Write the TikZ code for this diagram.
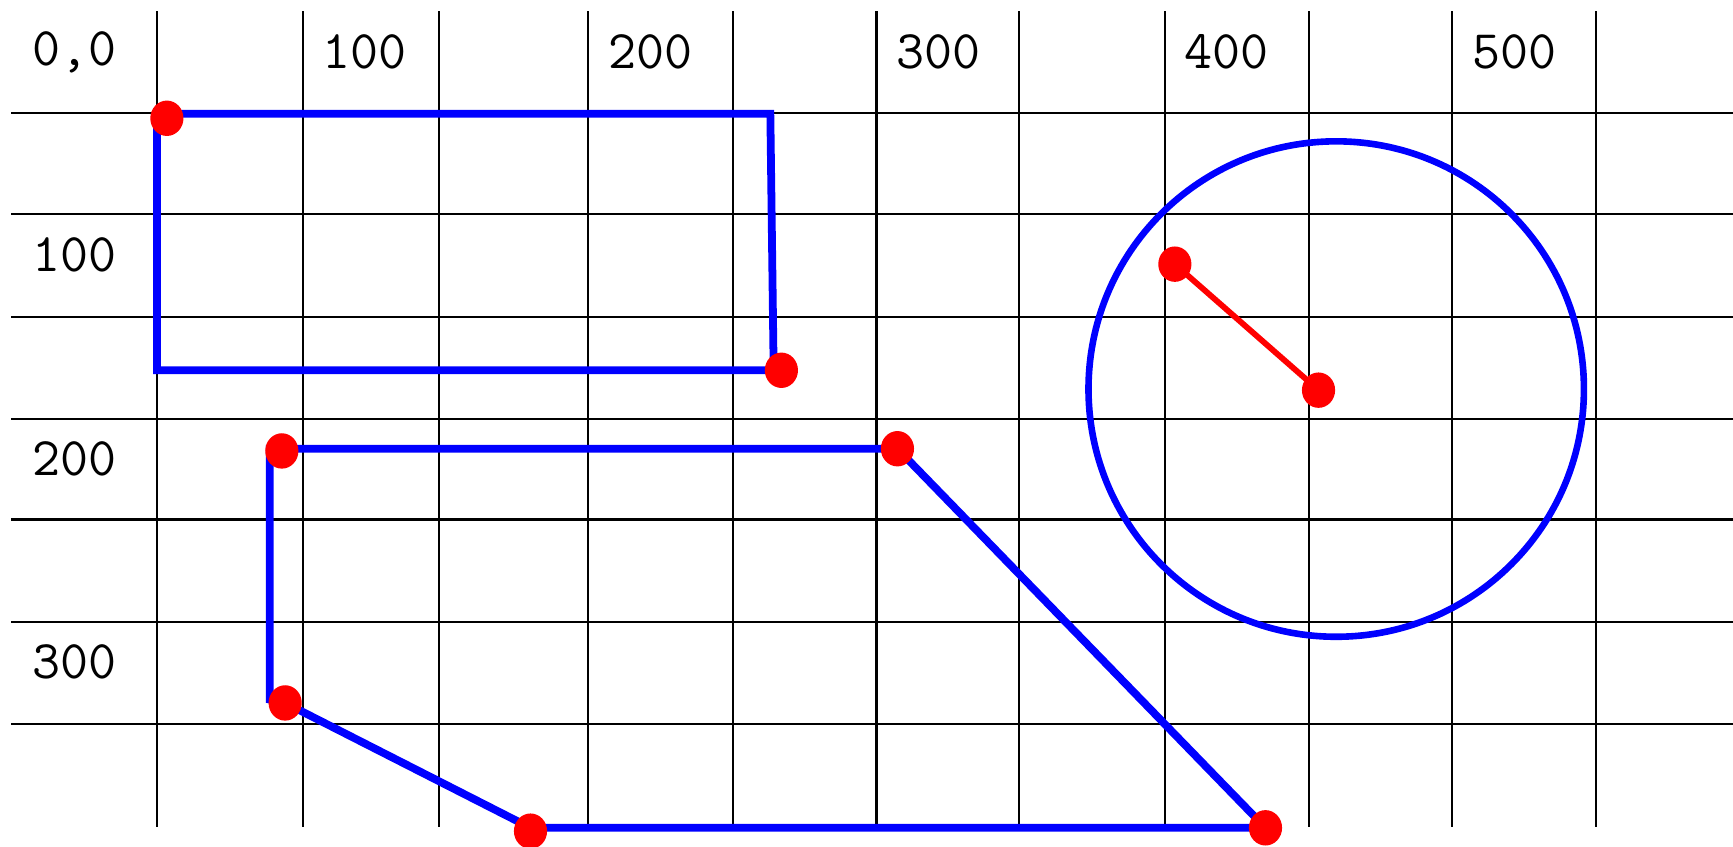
\documentclass[tikz,border=0pt]{standalone}
\usepackage{fontspec}
\begin{document}
\begin{tikzpicture}[x=0.01cm,y=-0.01cm, line cap=butt, line join=miter]

\tikzset{
  gridline/.style={draw=black, line width=0.55pt},
  bluepath/.style={draw=blue, line width=2pt},
  redpath/.style={draw=red, line width=1.5pt},
  pin/.style={fill=red},
  coordlabel/.style={font=\ttfamily\fontsize{14}{16}\selectfont\addfontfeatures{LetterSpace=6}, inner sep=0pt}
}

\useasboundingbox (0,0) rectangle (1568,766);

\foreach \x in {142,274,397,532,663,793,922,1054,1184,1314,1444}
  \draw[gridline] (\x,10) -- (\x,748);
\foreach \y in {102,194,287,379,470,563,655}
  \draw[gridline] (10,\y) -- (1568,\y);

\node[coordlabel] (origin) at (67,47) {0,0};
\node[coordlabel] (x100) at (330,47) {100};
\node[coordlabel] (x200) at (589,47) {200};
\node[coordlabel] (x300) at (849,47) {300};
\node[coordlabel] (x400) at (1110,47) {400};
\node[coordlabel] (x500) at (1370,47) {500};
\node[coordlabel] (y100) at (67,231) {100};
\node[coordlabel] (y200) at (67,415) {200};
\node[coordlabel] (y300) at (67,599) {300};

\coordinate (ra) at (142,103);
\coordinate (rb) at (697,103);
\coordinate (rc) at (700,335);
\coordinate (rd) at (142,335);
\draw[bluepath] (ra) -- (rb) -- (rc) -- (rd) -- cycle;

\coordinate (pa) at (244,406);
\coordinate (pb) at (812,406);
\coordinate (pc) at (1145,749);
\coordinate (pd) at (480,749);
\coordinate (pe) at (258,636);
\coordinate (pf) at (244,633);
\draw[bluepath] (pa) -- (pb) -- (pc) -- (pd) -- (pe) -- (pf) -- cycle;

\coordinate (centre) at (1209,352);
\draw[bluepath, line width=1.7pt] (centre) circle [radius=2.24cm];

\coordinate (rim) at (1063,239);
\coordinate (hub) at (1193,353);
\draw[redpath] (rim) -- (hub);

\foreach \p in {(151,107),(707,335),(255,408),(812,406),(1145,749),(480,752),(258,636),(1063,239),(1193,353)}
  \fill[pin] \p ellipse [x radius=0.15cm, y radius=0.16cm];

\end{tikzpicture}
\end{document}
